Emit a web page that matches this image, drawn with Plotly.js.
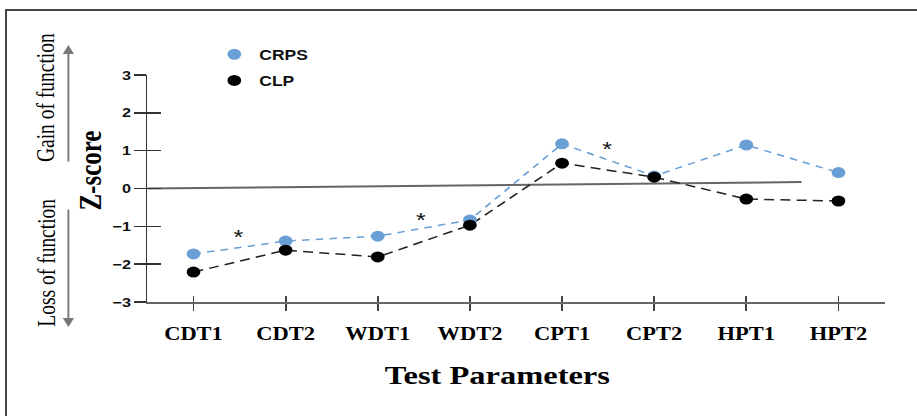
<!DOCTYPE html>
<html>
<head>
<meta charset="utf-8">
<script src="https://cdn.plot.ly/plotly-3.0.1.min.js"></script>
<style>
  html, body { margin: 0; padding: 0; background: #fff; overflow: hidden; }
  #frame { position: absolute; left: 5px; top: 9px; width: 920px; height: 420px; z-index: 10;
           pointer-events: none; border-top: 2px solid #444; border-left: 2px solid #444; }
  #chart { position: absolute; left: 0; top: 0; width: 734px; height: 416px;
           transform: scale(1.2493, 1); transform-origin: 0 0; }
</style>
</head>
<body>
<div id="frame"></div>
<div id="chart"></div>
<script>
// ---- data ----
const categories = ['CDT1', 'CDT2', 'WDT1', 'WDT2', 'CPT1', 'CPT2', 'HPT1', 'HPT2'];
const crps = [-1.73, -1.39, -1.26, -0.83, 1.18, 0.33, 1.15, 0.42];
const clp  = [-2.21, -1.63, -1.81, -0.97, 0.67, 0.30, -0.28, -0.33];
const yTickVals = [-3, -2, -1, 0, 1, 2, 3];
const refLineX = [-0.5, 6.6];
const refLineY = [0, 0.17];
const sigX = [0.49, 2.47, 4.49];
const sigY = [-1.27, -0.83, 1.04];

const xIdx = categories.map((_, i) => i);
const serif = 'Liberation Serif, Times New Roman, serif';
const sans = 'Liberation Sans, Arial, sans-serif';
const blue = '#6a9fd6';

const traces = [
  { x: refLineX, y: refLineY, mode: 'lines', line: { color: '#666', width: 2 },
    showlegend: false, hoverinfo: 'skip' },
  { x: xIdx, y: crps, mode: 'lines', showlegend: false, hoverinfo: 'skip',
    line: { color: blue, width: 1.5, dash: '6px,5px' } },
  { x: xIdx, y: clp, mode: 'lines', showlegend: false, hoverinfo: 'skip',
    line: { color: '#222', width: 1.5, dash: '8px,5px' } },
  { x: xIdx, y: crps, name: 'CRPS', mode: 'markers', legendgroup: 'a',
    marker: { color: blue, size: 11 } },
  { x: xIdx, y: clp, name: 'CLP', mode: 'markers', legendgroup: 'b',
    marker: { color: '#000', size: 11 } },
  { x: xIdx, y: clp, xaxis: 'x2', yaxis: 'y2', mode: 'none', showlegend: false, hoverinfo: 'skip' }
];

const annotations = [];
sigX.forEach((x, i) => annotations.push({
  x: x, y: sigY[i], xref: 'x', yref: 'y', text: '*', showarrow: false,
  xanchor: 'center', yanchor: 'middle',
  font: { family: sans, size: 20, color: '#111' }
}));
annotations.push({ x: -0.0787, y: 0.577, xref: 'paper', yref: 'paper', text: '<b>Z-score</b>',
  xanchor: 'center', yanchor: 'middle',
  textangle: -90, showarrow: false, font: { family: serif, size: 25, color: '#000' } });
annotations.push({ x: -0.137, y: 0.899, xref: 'paper', yref: 'paper', text: 'Gain of function',
  xanchor: 'center', yanchor: 'middle',
  textangle: -90, showarrow: false, font: { family: serif, size: 19.5, color: '#000' } });
annotations.push({ x: -0.137, y: 0.174, xref: 'paper', yref: 'paper', text: 'Loss of function',
  xanchor: 'center', yanchor: 'middle',
  textangle: -90, showarrow: false, font: { family: serif, size: 19.5, color: '#000' } });
annotations.push({ x: -0.1072, y: 1.132, xref: 'paper', yref: 'paper', text: '', showarrow: true,
  ax: 0, ay: 118, arrowhead: 2, arrowsize: 1.2, arrowwidth: 1.5, arrowcolor: '#777' });
annotations.push({ x: -0.1072, y: -0.110, xref: 'paper', yref: 'paper', text: '', showarrow: true,
  ax: 0, ay: -119, arrowhead: 2, arrowsize: 1.2, arrowwidth: 1.5, arrowcolor: '#777' });
annotations.push({ x: 0.475, y: -0.322, xref: 'paper', yref: 'paper', text: '<b>Test Parameters</b>',
  showarrow: false, xanchor: 'center', yanchor: 'middle',
  font: { family: serif, size: 26, color: '#000' } });

const layout = {
  width: 734, height: 416,
  margin: { l: 118.4, r: 25.6, t: 75, b: 114 },
  paper_bgcolor: 'rgba(0,0,0,0)', plot_bgcolor: 'rgba(0,0,0,0)',
  showlegend: true,
  legend: { x: 0.084, y: 1.16, xanchor: 'left', yanchor: 'top', bgcolor: 'rgba(0,0,0,0)',
    tracegroupgap: 5, traceorder: 'grouped',
    font: { family: sans, size: 14, color: '#111', weight: 'bold' } },
  xaxis: { range: [-0.5, 7.5], tickvals: xIdx, ticktext: categories,
    showgrid: false, zeroline: false, showline: true, linecolor: '#666', linewidth: 1.5,
    ticks: 'outside', ticklen: 7, tickwidth: 1.5, tickcolor: '#444', ticklabelstandoff: 8,
    tickfont: { family: serif, size: 18, color: '#000', weight: 'bold' } },
  yaxis: { range: [-3, 3], tickvals: yTickVals, showgrid: false, zeroline: false,
    showline: true, linecolor: '#333', linewidth: 1.5,
    ticks: 'outside', ticklen: 9, tickwidth: 1.5, tickcolor: '#333',
    tickfont: { family: sans, size: 13, color: '#111', weight: 'bold' } },
  xaxis2: { overlaying: 'x', range: [-0.5, 7.5], tickvals: xIdx, showticklabels: false,
    showgrid: false, zeroline: false, showline: false, ticks: 'inside', ticklen: 6,
    tickwidth: 1.5, tickcolor: '#444', side: 'bottom' },
  yaxis2: { overlaying: 'y', range: [-3, 3], tickvals: yTickVals, showticklabels: false,
    showgrid: false, zeroline: false, showline: false, ticks: 'inside', ticklen: 11,
    tickwidth: 1.5, tickcolor: '#333', side: 'left' },
  annotations: annotations
};

Plotly.newPlot('chart', traces, layout, { staticPlot: true, displayModeBar: false });
</script>
</body>
</html>
